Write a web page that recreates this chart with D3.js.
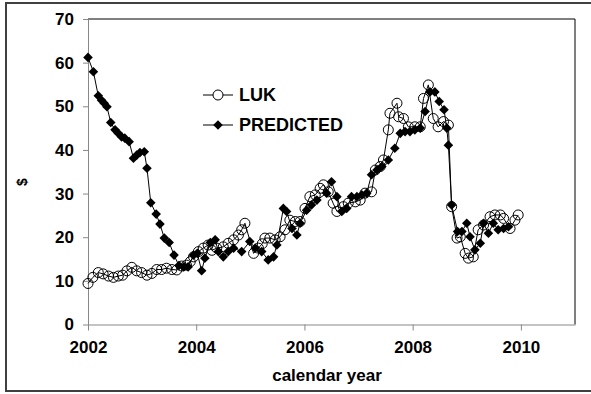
<!DOCTYPE html>
<html><head><meta charset="utf-8">
<script src="https://cdn.jsdelivr.net/npm/d3@7"></script>
<style>
body{margin:0;background:#fff;}
svg text{font-family:Arial,"Liberation Sans",sans-serif;font-weight:bold;fill:#000;}
</style>
</head><body>
<svg id="chart" width="591" height="394"></svg>
<script>
const lukYears = [2002.00,2002.09,2002.19,2002.28,2002.38,2002.47,2002.56,2002.64,2002.72,2002.81,2002.90,2002.99,
  2003.09,2003.18,2003.27,2003.36,2003.45,2003.55,2003.64,2003.73,2003.82,2003.89,2003.95,
  2004.04,2004.13,2004.22,2004.29,2004.38,2004.50,2004.59,2004.69,2004.78,2004.84,2004.90,
  2005.06,2005.15,2005.22,2005.27,2005.36,2005.46,2005.55,2005.64,2005.73,2005.83,2005.92,
  2006.01,2006.10,2006.20,2006.29,2006.35,2006.44,2006.53,2006.60,2006.72,2006.81,2006.94,
  2007.03,2007.12,2007.24,2007.31,2007.40,2007.46,2007.55,2007.58,2007.71,2007.74,2007.83,2007.92,
  2008.04,2008.14,2008.20,2008.29,2008.38,2008.47,2008.57,2008.66,2008.72,2008.82,2008.88,2008.97,
  2009.03,2009.12,2009.21,2009.31,2009.43,2009.52,2009.62,2009.68,2009.80,2009.89,2009.95];
const lukValues = [9.4,10.8,11.9,11.6,11.1,10.8,11.1,11.3,12.3,13.1,12.3,11.9,
  11.3,11.7,12.6,12.6,12.9,12.6,12.5,13.4,13.6,14.4,15.5,
  16.7,17.5,18.2,17.0,17.5,17.8,18.6,19.4,20.5,21.7,23.2,
  16.3,17.5,18.5,19.8,19.8,19.4,20.1,21.7,23.9,23.6,23.6,
  26.6,29.3,29.7,31.2,32.0,30.4,27.8,25.9,27.0,27.8,28.1,
  28.5,30.1,30.4,35.4,36.2,37.7,44.6,48.4,50.7,47.6,47.2,45.3,
  45.3,45.3,51.8,54.9,47.2,45.3,46.5,45.7,27.0,19.8,20.1,16.3,
  15.2,15.5,21.7,22.8,24.7,25.1,25.1,24.3,22.0,23.9,25.1];

const predYears = [2002.00,2002.10,2002.19,2002.25,2002.30,2002.35,2002.42,2002.50,2002.56,2002.62,2002.68,2002.76,
  2002.84,2002.90,2002.96,2003.04,2003.09,2003.16,2003.26,2003.33,2003.41,2003.50,2003.59,2003.68,2003.77,2003.85,2003.95,
  2004.02,2004.10,2004.16,2004.26,2004.35,2004.41,2004.50,2004.59,2004.69,2004.84,2004.99,
  2005.09,2005.21,2005.33,2005.43,2005.49,2005.61,2005.67,2005.77,2005.86,2005.92,
  2006.04,2006.13,2006.23,2006.41,2006.50,2006.60,2006.69,2006.78,2006.87,2006.97,
  2007.06,2007.15,2007.24,2007.34,2007.43,2007.55,2007.67,2007.77,2007.86,2007.95,
  2008.04,2008.14,2008.23,2008.32,2008.41,2008.49,2008.58,2008.63,2008.66,2008.72,2008.83,2008.91,
  2009.00,2009.06,2009.15,2009.25,2009.31,2009.40,2009.49,2009.58,2009.68,2009.77];
const predValues = [61.2,57.9,52.4,51.4,50.7,49.9,46.3,44.6,43.8,43.0,42.7,41.9,
  38.1,38.8,39.4,39.6,35.8,27.9,25.3,23.0,19.8,18.8,15.9,13.5,13.2,13.2,15.9,
  16.3,12.3,15.2,18.8,19.4,16.7,15.5,16.7,17.5,16.7,19.0,
  17.5,16.7,14.8,15.5,18.2,26.6,25.9,22.0,20.5,23.2,
  26.2,27.4,28.5,30.1,32.7,29.3,25.9,26.6,29.3,29.3,
  29.7,30.1,34.3,35.4,36.2,37.7,40.4,43.8,44.2,44.2,
  44.6,45.0,48.8,53.3,53.3,51.1,49.2,45.0,41.1,27.4,21.3,21.3,
  23.2,20.1,17.1,18.6,23.2,20.9,23.2,21.7,22.0,22.4];

const xTickValues = [2002, 2004, 2006, 2008, 2010];
const yTickValues = [0, 10, 20, 30, 40, 50, 60, 70];
const seriesNames = ["LUK", "PREDICTED"];
const xTitle = "calendar year";
const yTitle = "$";

const svg = d3.select("#chart");
const plot = {left: 88, right: 575, top: 19, bottom: 324.5};

// outer frame
svg.append("rect").attr("x", 6).attr("y", 3).attr("width", 620).attr("height", 388)
  .attr("fill", "#fff").attr("stroke", "#404040").attr("stroke-width", 2);

const x = d3.scaleLinear().domain([2002, 2011]).range([plot.left, plot.right]);
const y = d3.scaleLinear().domain([0, 70]).range([plot.bottom, plot.top]);

// plot border top/right (black)
svg.append("path")
  .attr("d", `M${plot.left},${plot.top}H${plot.right}V${plot.bottom}`)
  .attr("fill", "none").attr("stroke", "#000").attr("stroke-width", 1);

// axes
const yAxis = d3.axisLeft(y).tickValues(yTickValues).tickSizeInner(5).tickSizeOuter(0).tickPadding(9);
const gy = svg.append("g").attr("transform", `translate(${plot.left},0)`).call(yAxis);
gy.select(".domain").attr("stroke", "#888");
gy.selectAll(".tick line").attr("stroke", "#888");

const xAxis = d3.axisBottom(x).tickValues(xTickValues).tickFormat(d3.format("d")).tickSizeInner(6).tickSizeOuter(0).tickPadding(10);
const gx = svg.append("g").attr("transform", `translate(0,${plot.bottom})`).call(xAxis);
gx.select(".domain").attr("stroke", "#888");
gx.selectAll(".tick line").attr("stroke", "#888");
svg.selectAll(".tick text").attr("font-size", null).attr("font-family", null).style("font-size", "17px");

// titles
svg.append("text").attr("x", 327).attr("y", 381).attr("text-anchor", "middle")
  .style("font-size", "17px").text(xTitle);
svg.append("text").attr("transform", "translate(27,182) rotate(-90)").attr("text-anchor", "middle")
  .style("font-size", "14px").text(yTitle);

const line = d3.line().x(d => x(d[0])).y(d => y(d[1]));
const lukData = lukYears.map((t, i) => [t, lukValues[i]]);
const predData = predYears.map((t, i) => [t, predValues[i]]);

// LUK series
svg.append("path").datum(lukData).attr("d", line).attr("fill", "none").attr("stroke", "#000").attr("stroke-width", 1);
svg.append("g").selectAll("circle").data(lukData).join("circle")
  .attr("cx", d => x(d[0])).attr("cy", d => y(d[1])).attr("r", 5)
  .attr("fill", "none").attr("stroke", "#000").attr("stroke-width", 1);

// PREDICTED series
const diamond = d3.symbol().type(d3.symbolSquare).size(46);
svg.append("path").datum(predData).attr("d", line).attr("fill", "none").attr("stroke", "#000").attr("stroke-width", 1);
svg.append("g").selectAll("path").data(predData).join("path")
  .attr("d", diamond)
  .attr("transform", d => `translate(${x(d[0])},${y(d[1])}) rotate(45)`)
  .attr("fill", "#000");

// legend
const legend = svg.append("g");
const lg = [{name: seriesNames[0], ly: 95, type: "circle"}, {name: seriesNames[1], ly: 125, type: "diamond"}];
lg.forEach(item => {
  legend.append("line").attr("x1", 203).attr("x2", 233).attr("y1", item.ly).attr("y2", item.ly)
    .attr("stroke", "#000").attr("stroke-width", 1);
  if (item.type === "circle") {
    legend.append("circle").attr("cx", 218).attr("cy", item.ly).attr("r", 5)
      .attr("fill", "#fff").attr("stroke", "#000");
  } else {
    legend.append("path").attr("d", diamond).attr("transform", `translate(218,${item.ly}) rotate(45)`).attr("fill", "#000");
  }
  legend.append("text").attr("x", 239).attr("y", item.ly).attr("dy", "0.35em")
    .style("font-size", "18px").text(item.name);
});
</script>
</body></html>
